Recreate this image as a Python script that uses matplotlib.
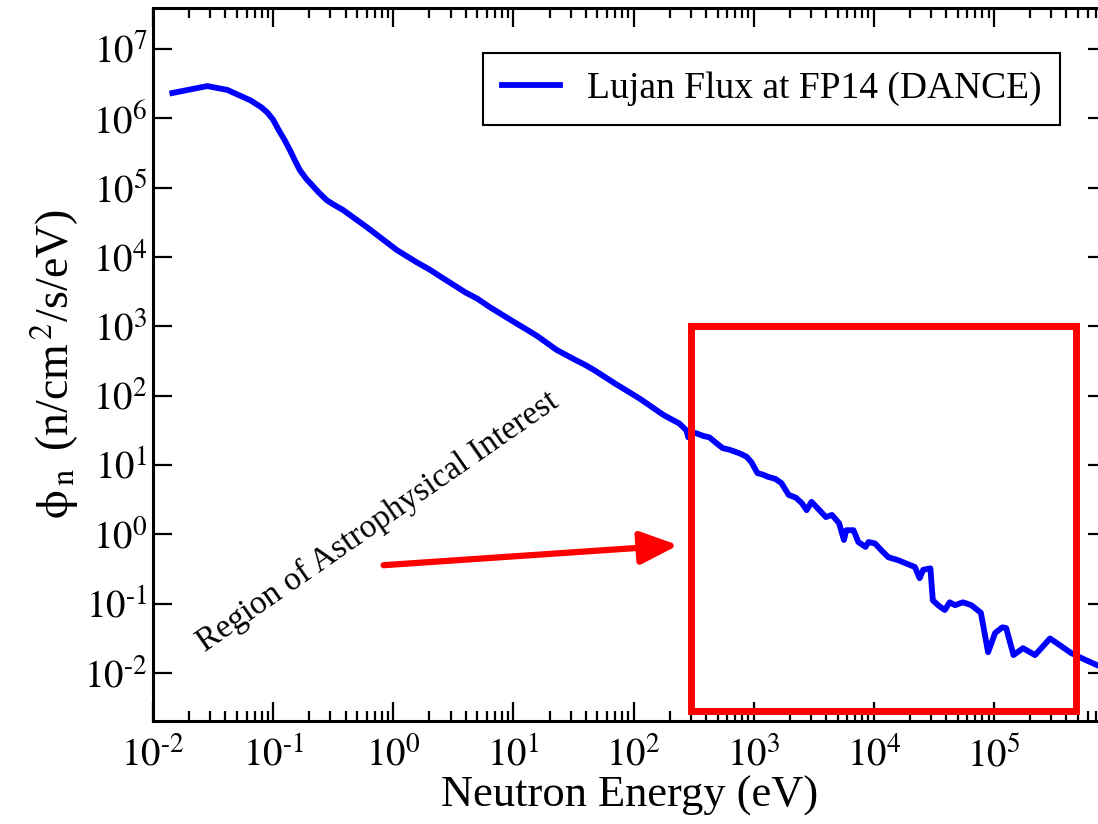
import matplotlib.pyplot as plt
import matplotlib as mpl
import numpy as np
from matplotlib.ticker import LogLocator, NullLocator, FuncFormatter
from matplotlib.patches import Rectangle

mpl.rcParams['font.family'] = ['Liberation Serif', 'DejaVu Serif']
mpl.rcParams['mathtext.fontset'] = 'stix'
mpl.rcParams['axes.unicode_minus'] = False

# neutron energy (eV) and flux (n/cm^2/s/eV)
energy = [0.0145, 0.017, 0.0283, 0.0415, 0.0646, 0.0794, 0.0891, 0.100, 0.110, 0.126,
          0.138, 0.151, 0.167, 0.190, 0.203, 0.240, 0.279, 0.316, 0.380, 0.603,
          1.07, 1.58, 2.00, 2.51, 3.98, 5.0, 6.31, 10.0, 13.0, 15.8,
          22.9, 31.6, 40.0, 47.9, 70.8, 90.0, 112, 178, 240, 275,
          285, 295, 331, 380, 427, 501, 550, 631, 759, 871,
          955, 1072, 1202, 1318, 1514, 1698, 1950, 2239, 2512, 2754,
          3020, 3388, 3981, 4467, 5129, 5623, 5888, 6761, 7413, 8511,
          9016, 1.02e4, 1.17e4, 1.32e4, 1.58e4, 1.86e4, 2.19e4, 2.40e4, 2.57e4, 2.95e4,
          3.09e4, 3.47e4, 3.89e4, 4.27e4, 4.73e4, 5.50e4, 6.46e4, 7.76e4, 8.91e4, 1.02e5,
          1.17e5, 1.26e5, 1.45e5, 1.74e5, 2.19e5, 2.92e5, 3.55e5, 4.37e5, 5.62e5, 7.08e5,
          8.9e5]
flux = [2.32e6, 2.45e6, 2.92e6, 2.57e6, 1.82e6, 1.45e6, 1.22e6, 9.55e5, 7.0e5, 4.68e5,
        3.47e5, 2.51e5, 1.78e5, 1.32e5, 1.17e5, 8.51e4, 6.61e4, 5.75e4, 4.79e4, 2.69e4,
        1.26e4, 8.32e3, 6.61e3, 5.13e3, 3.09e3, 2.51e3, 1.91e3, 1.17e3, 891, 724,
        457, 339, 275, 229, 148, 115, 91.2, 52.5, 39.8, 31.6,
        25.1, 29.5, 28.8, 26.3, 25.1, 20.0, 17.6, 16.6, 14.8, 13.2,
        11.0, 7.67, 7.24, 6.76, 6.31, 5.50, 3.72, 3.39, 2.82, 2.24,
        2.95, 2.40, 1.78, 1.91, 1.45, 0.832, 1.15, 1.15, 0.776, 0.661,
        0.776, 0.741, 0.575, 0.468, 0.427, 0.380, 0.339, 0.234, 0.309, 0.324,
        0.112, 0.0933, 0.0813, 0.105, 0.0955, 0.105, 0.0955, 0.0741, 0.0200, 0.0380,
        0.0457, 0.0447, 0.0182, 0.0229, 0.0182, 0.0316, 0.0251, 0.0195, 0.0158, 0.0132,
        0.0112]

series_label = 'Lujan Flux at FP14 (DANCE)'
region_text = 'Region of Astrophysical Interest'
# box and arrow marking the region (data units)
box_E = (300, 4.8e5)
box_phi = (2.8e-3, 1.0e3)
arrow_tail = (0.83, 0.36)
arrow_tip = (235, 0.70)


def pow10(v, pos):
    e = int(round(np.log10(v)))
    if e < 0:
        return r'$10^{\text{-}%d}$' % (-e)
    return r'$10^{%d}$' % e


fig = plt.figure(figsize=(10.98, 8.24), dpi=100)
ax = fig.add_axes([153/1098, 1-721/824, (1107-153)/1098, (721-8)/824])

ax.plot(energy, flux, color='#0000ff', lw=4.2, label=series_label, zorder=3)
ax.set_xscale('log')
ax.set_yscale('log')
ax.set_xlim(1e-2, 8.7e5)
ax.set_ylim(2.04e-3, 3.9e7)

ax.add_patch(Rectangle((box_E[0], box_phi[0]), box_E[1]-box_E[0], box_phi[1]-box_phi[0],
                       fill=False, edgecolor='#ff0000', lw=5, zorder=4, clip_on=False))
ax.annotate('', xy=arrow_tip, xytext=arrow_tail,
            arrowprops=dict(arrowstyle='-|>,head_length=2.3,head_width=1.0',
                            color='#ff0000', lw=4.5, shrinkA=0, shrinkB=0))
ax.text(0.743, 1.5, region_text, rotation=34.8, rotation_mode='anchor',
        ha='center', va='center', fontsize=24)

ax.xaxis.set_major_locator(LogLocator(base=10, numticks=20))
ax.xaxis.set_minor_locator(LogLocator(base=10, subs=range(2, 10), numticks=20))
ax.yaxis.set_major_locator(LogLocator(base=10, numticks=20))
ax.yaxis.set_minor_locator(NullLocator())
ax.xaxis.set_major_formatter(FuncFormatter(pow10))
ax.yaxis.set_major_formatter(FuncFormatter(pow10))
ax.tick_params(which='both', direction='in', top=True, right=True, width=1.6, labelsize=28)
ax.tick_params(which='major', length=14)
ax.tick_params(which='minor', length=7)
ax.tick_params(axis='x', pad=12)
ax.tick_params(axis='y', pad=4)
for s in ax.spines.values():
    s.set_linewidth(2.2)

ax.set_xlabel('Neutron Energy (eV)', fontsize=32, labelpad=0)
ax.set_ylabel(r'$\mathrm{\phi}_{\,\mathrm{n}}\,$ (n/cm$^{\,2}$/s/eV)', fontsize=33, labelpad=2)

leg = ax.legend(loc='upper left', bbox_to_anchor=(483/1098, 1-53/824),
                bbox_transform=fig.transFigure, fontsize=27, frameon=True,
                fancybox=False, edgecolor='black', framealpha=1,
                borderpad=0.5, handlelength=1.55, handletextpad=0.72, borderaxespad=0)
leg.get_frame().set_linewidth(1.5)

fig.savefig('out.png', dpi=100)
